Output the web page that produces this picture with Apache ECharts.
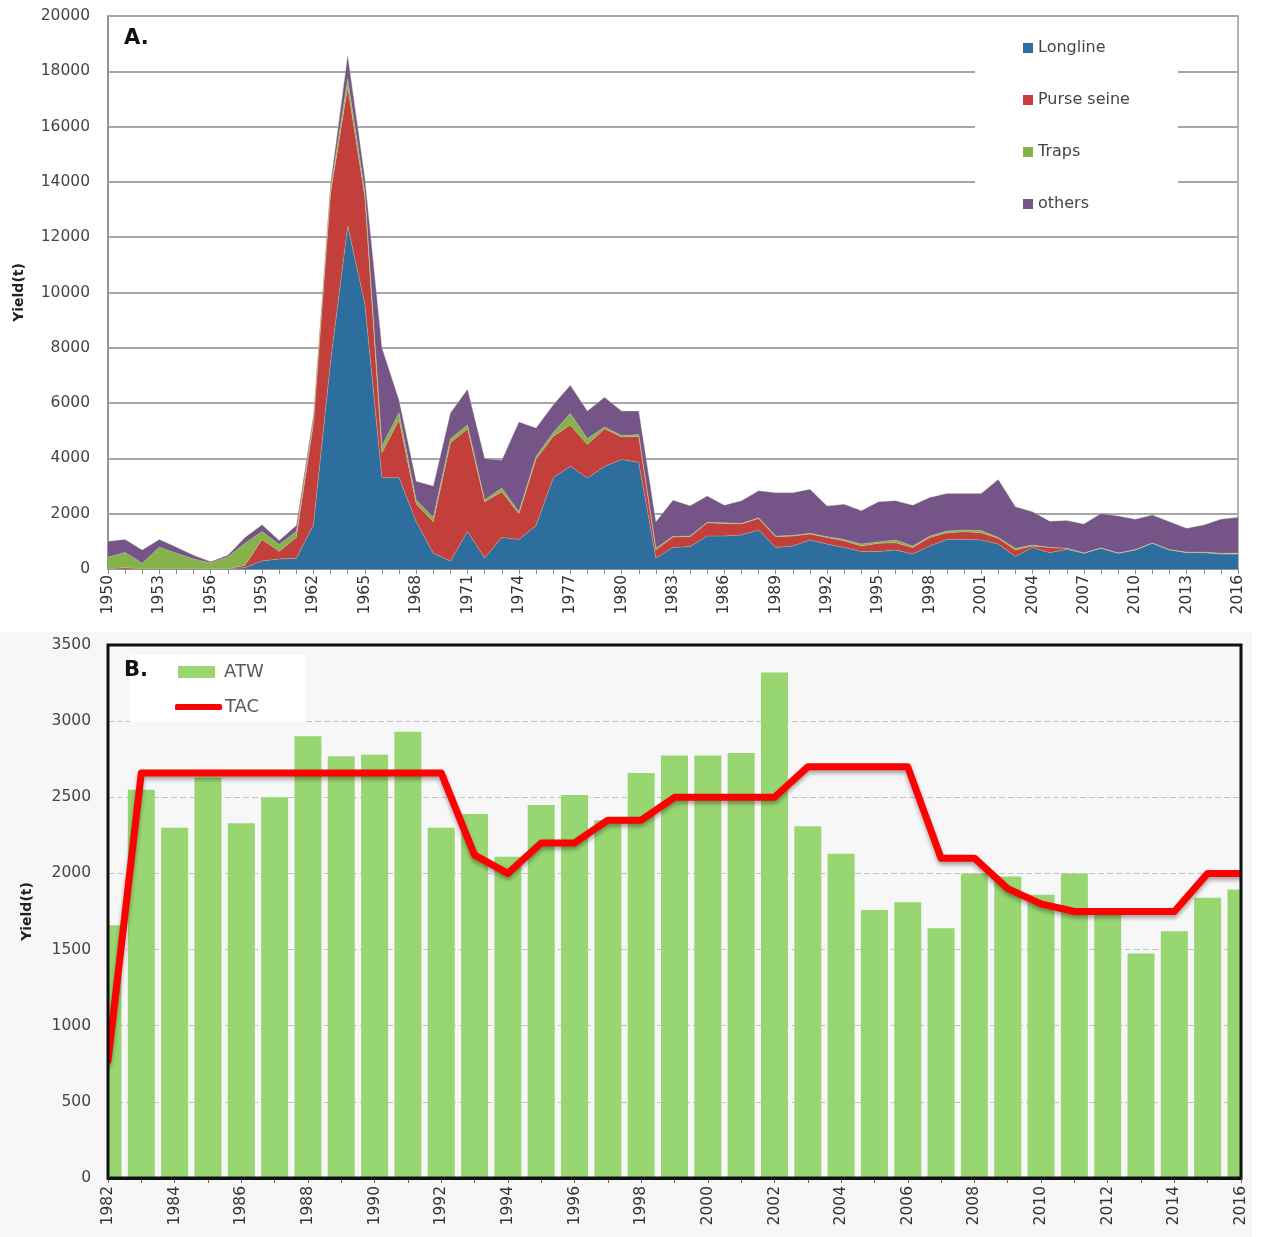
<!DOCTYPE html>
<html>
<head>
<meta charset="utf-8">
<script src="https://cdn.jsdelivr.net/npm/echarts@6/dist/echarts.min.js"></script>
<style>
  html, body { margin: 0; padding: 0; background: #fff; }
  #chartA { position: absolute; left: 0; top: 0; width: 1264px; height: 628px; background: #fff; }
  #chartB { position: absolute; left: 0; top: 632px; width: 1252px; height: 605px; background: #f7f7f7; }
</style>
</head>
<body>
<div id="chartA"></div>
<div id="chartB"></div>
<script>
// panel A: catch by gear, 1950-2016
var years = [];
for (var y = 1950; y <= 2016; y++) years.push(String(y));

var longline = [0, 0, 0, 0, 0, 0, 0, 0, 50, 290, 360, 390, 1600, 7500, 12400, 9600, 3300, 3300, 1710, 570,
  290, 1360, 400, 1140, 1070, 1570, 3290, 3720, 3290, 3710, 3960, 3860, 400, 780, 810, 1190, 1190, 1230, 1410, 780,
  830, 1050, 900, 780, 630, 630, 690, 540, 830, 1070, 1070, 1050, 900, 450, 780, 590, 710, 570, 750, 570,
  690, 930, 690, 590, 590, 540, 540];
var purseSeine = [0, 50, 0, 0, 0, 0, 0, 0, 90, 780, 280, 750, 3660, 6080, 5030, 3850, 900, 2100, 650, 1140,
  4280, 3710, 2030, 1650, 930, 2400, 1500, 1490, 1210, 1360, 810, 930, 300, 380, 360, 480, 460, 400, 420, 390,
  360, 220, 240, 240, 200, 300, 260, 240, 310, 240, 280, 260, 210, 240, 50, 190, 40, 0, 0, 0,
  0, 0, 0, 10, 10, 10, 10];
var traps = [430, 550, 210, 790, 570, 360, 220, 430, 790, 290, 250, 220, 100, 150, 300, 200, 250, 250, 140, 150,
  140, 140, 70, 140, 70, 100, 140, 420, 210, 70, 60, 70, 50, 20, 20, 20, 20, 20, 20, 20,
  20, 20, 30, 50, 70, 50, 100, 50, 50, 60, 60, 80, 30, 60, 40, 0, 0, 10, 10, 10,
  10, 10, 10, 10, 10, 20, 20];
var others = [570, 470, 480, 280, 220, 140, 40, 70, 210, 240, 140, 210, 200, 200, 850, 500, 3550, 450, 670, 1140,
  930, 1290, 1500, 1000, 3250, 1030, 1000, 1020, 1000, 1070, 880, 850, 960, 1310, 1100, 950, 640, 820, 980, 1570,
  1550, 1590, 1110, 1270, 1210, 1450, 1420, 1480, 1400, 1360, 1320, 1340, 2100, 1500, 1200, 950, 1000, 1050, 1250, 1340,
  1100, 1010, 1010, 860, 980, 1230, 1300];
var yTicksA = [0, 2000, 4000, 6000, 8000, 10000, 12000, 14000, 16000, 18000, 20000];

// panel B: annual total weight vs total allowable catch, 1982-2016
var yearsB = [];
for (var yb = 1982; yb <= 2016; yb++) yearsB.push(String(yb));
var atw = [1660, 2550, 2300, 2630, 2330, 2500, 2900, 2770, 2780, 2930, 2300, 2390, 2110, 2450, 2515, 2350, 2660, 2775,
  2775, 2790, 3320, 2310, 2130, 1760, 1810, 1640, 2000, 1980, 1860, 2000, 1740, 1475, 1620, 1840, 1895];
var tac = [770, 2660, 2660, 2660, 2660, 2660, 2660, 2660, 2660, 2660, 2660, 2120, 2000, 2200, 2200, 2350, 2350, 2500,
  2500, 2500, 2500, 2700, 2700, 2700, 2700, 2100, 2100, 1900, 1800, 1750, 1750, 1750, 1750, 2000, 2000];
var yTicksB = [0, 500, 1000, 1500, 2000, 2500, 3000, 3500];

var labelFont = "DejaVu Sans";
var gearColors = ["#2d6e9e", "#c33f3b", "#86b24b", "#755487"];

function areaSeries(name, data, color) {
  return {
    name: name,
    type: "line",
    stack: "total",
    data: data,
    showSymbol: false,
    symbol: "none",
    lineStyle: { width: 0.6, color: "#c9c9a0", opacity: 0.6 },
    areaStyle: { color: color, opacity: 1 },
    itemStyle: { color: color },
  };
}

var chartA = echarts.init(document.getElementById("chartA"));
chartA.setOption({
  animation: false,
  grid: { left: 108, top: 16, width: 1130, height: 553, show: true, borderColor: "#9a9a9a", borderWidth: 1.5 },
  legend: {
    orient: "vertical",
    left: 975,
    top: 24,
    padding: [14, 48, 14, 48],
    backgroundColor: "#fff",
    itemWidth: 10,
    itemHeight: 10,
    itemGap: 32,
    icon: "rect",
    data: ["Longline", "Purse seine", "Traps", "others"],
    textStyle: { fontFamily: labelFont, fontSize: 16, color: "#444", lineHeight: 20 },
  },
  graphic: [
    { type: "text", left: 124, top: 28, z: 10,
      style: { text: "A.", font: "bold 21px 'DejaVu Sans'", fill: "#111" } },
  ],
  xAxis: {
    type: "category",
    data: years,
    boundaryGap: false,
    axisLine: { lineStyle: { color: "#8a8a8a", width: 1.5 } },
    axisTick: { show: true, interval: 0, length: 5, lineStyle: { color: "#8a8a8a" } },
    axisLabel: { interval: 2, rotate: 90, margin: 6, fontFamily: labelFont, fontSize: 15.5, color: "#333" },
  },
  yAxis: {
    type: "value",
    min: 0,
    max: 20000,
    interval: 2000,
    name: "Yield(t)",
    nameLocation: "middle",
    nameGap: 82,
    nameTextStyle: { fontFamily: labelFont, fontSize: 14, fontWeight: "bold", color: "#222" },
    axisLine: { show: true, lineStyle: { color: "#8a8a8a", width: 1.5 } },
    axisTick: { show: false },
    axisLabel: {
      fontFamily: labelFont, fontSize: 15.5, color: "#444", margin: 18,
      formatter: function (v) { return yTicksA.indexOf(v) >= 0 ? String(v) : ""; },
    },
    splitLine: { lineStyle: { color: "#a6a6a6", width: 2 } },
  },
  series: [
    areaSeries("Longline", longline, gearColors[0]),
    areaSeries("Purse seine", purseSeine, gearColors[1]),
    areaSeries("Traps", traps, gearColors[2]),
    areaSeries("others", others, gearColors[3]),
  ],
});

var chartB = echarts.init(document.getElementById("chartB"));
chartB.setOption({
  animation: false,
  // border drawn above the bars so the frame stays visible
  grid: { left: 108, top: 13, width: 1133, height: 533, show: true, borderColor: "#111", borderWidth: 3, z: 10 },
  legend: [
    {
      left: 178, top: 31, padding: 0, itemWidth: 37, itemHeight: 12, icon: "rect",
      data: ["ATW"],
      textStyle: { fontFamily: labelFont, fontSize: 18, color: "#595959", lineHeight: 14, padding: [0, 0, 0, 4] },
    },
    {
      left: 175, top: 66, padding: 0, itemWidth: 47, itemHeight: 6, icon: "roundRect",
      data: ["TAC"],
      textStyle: { fontFamily: labelFont, fontSize: 18, color: "#595959", lineHeight: 14, padding: [0, 0, 0, -2] },
    },
  ],
  graphic: [
    { type: "rect", shape: { x: 130, y: 23, width: 175, height: 67 }, style: { fill: "#fff" }, z: 3 },
    // hide the half bars that spill past the plot edges
    { type: "rect", shape: { x: 93, y: 10, width: 14, height: 537 }, style: { fill: "#f7f7f7" }, z: 8 },
    { type: "rect", shape: { x: 1242, y: 10, width: 14, height: 537 }, style: { fill: "#f7f7f7" }, z: 8 },
    { type: "text", left: 124, top: 28, z: 10,
      style: { text: "B.", font: "bold 21px 'DejaVu Sans'", fill: "#111" } },
  ],
  xAxis: {
    type: "category",
    data: yearsB,
    boundaryGap: false,
    axisLine: { lineStyle: { color: "#111", width: 3 } },
    axisTick: { show: true, interval: 0, length: 5, lineStyle: { color: "#666" } },
    axisLabel: { interval: 1, rotate: 90, margin: 8, fontFamily: labelFont, fontSize: 15.5, color: "#333" },
  },
  yAxis: {
    type: "value",
    min: 0,
    max: 3500,
    interval: 500,
    name: "Yield(t)",
    nameLocation: "middle",
    nameGap: 74,
    nameTextStyle: { fontFamily: labelFont, fontSize: 14, fontWeight: "bold", color: "#222" },
    axisLine: { show: true, lineStyle: { color: "#333", width: 2 } },
    axisTick: { show: false },
    axisLabel: {
      fontFamily: labelFont, fontSize: 15.5, color: "#444", margin: 17,
      formatter: function (v) { return yTicksB.indexOf(v) >= 0 ? String(v) : ""; },
    },
    splitLine: { lineStyle: { color: "#c4c4c4", width: 1, type: [6, 3] } },
  },
  series: [
    {
      name: "ATW",
      type: "bar",
      data: atw,
      barWidth: 27,
      itemStyle: { color: "#98d672" },
    },
    {
      name: "TAC",
      type: "line",
      data: tac,
      symbol: "none",
      showSymbol: false,
      z: 5,
      lineStyle: {
        color: "#ff0000", width: 7, cap: "round", join: "round",
        shadowColor: "rgba(0,0,0,0.35)", shadowBlur: 4, shadowOffsetY: 3,
      },
      itemStyle: { color: "#ff0000" },
    },
  ],
});
</script>
</body>
</html>
